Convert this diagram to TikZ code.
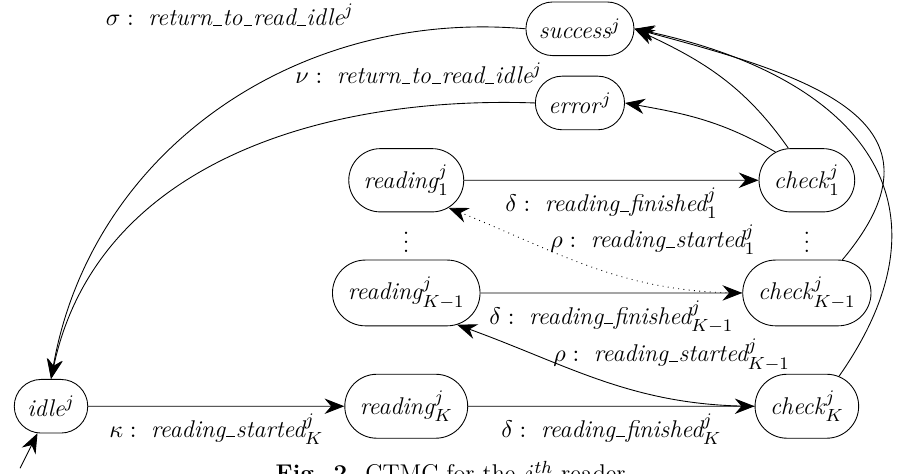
\documentclass[tikz,border=0pt]{standalone}
\usepackage{amsmath}
\usepackage{amssymb}
\usetikzlibrary{shapes.misc,arrows.meta}

\newcommand{\us}{\kern.05em\vbox{\hrule width.36em}\kern.03em}

\tikzset{
    state/.style={draw, rounded rectangle, inner xsep=5pt, inner ysep=7.5pt},
    trans/.style={-{Stealth[length=9pt,width=7pt,inset=3pt]}},
}

\begin{document}
\begin{tikzpicture}[every node/.style={font=\fontsize{11}{13.2}\selectfont}]
    \useasboundingbox (0,0) rectangle (14.41,-7.57);

    % States
    \node[state] (idle) at (0.815,-6.49) {\textit{idle}$^j$};
    \node[state] (readK) at (6.49,-6.49) {\textit{reading}$^j_K$};
    \node[state] (checkK) at (12.89,-6.49) {\textit{check}$^j_K$};
    \node[state] (readKm) at (6.49,-4.68) {\textit{reading}$^j_{K-1}$};
    \node[state] (checkKm) at (12.89,-4.68) {\textit{check}$^j_{K-1}$};
    \node[state] (read1) at (6.49,-2.88) {\textit{reading}$^j_1$};
    \node[state] (check1) at (12.89,-2.88) {\textit{check}$^j_1$};
    \node[state] (success) at (9.265,-0.46) {\textit{success}$^j$};
    \node[state] (error) at (9.265,-1.645) {\textit{error}$^j$};
    \node (dotsL) at (6.49,-3.77) {$\vdots$};
    \node (dotsR) at (12.89,-3.77) {$\vdots$};

    % Initial arrow
    \coordinate (init) at (0.32,-7.48);
    \draw[trans] (init) -- (idle);

    % Reading and checking
    \draw[trans] (idle) -- (readK)
        node[midway,below] {$\kappa:\ \textit{reading\us started}^j_K$};
    \draw[trans] (readK) -- (checkK)
        node[midway,below] {$\delta:\ \textit{reading\us finished}^j_K$};
    \draw[trans] (readKm) -- (checkKm)
        node[midway,below] {$\delta:\ \textit{reading\us finished}^j_{K-1}$};
    \draw[trans] (read1) -- (check1)
        node[midway,below] {$\delta:\ \textit{reading\us finished}^j_1$};

    % Next reading
    \draw[trans] (checkK.west) to[out=180,in=-20] (readKm.-32);
    \draw[trans,dotted] (checkKm.west) to[out=180,in=-22] (read1.-33);
    \node (rhoKm) at (10.73,-5.67) {$\rho:\ \textit{reading\us started}^j_{K-1}$};
    \node (rho1) at (10.43,-3.83) {$\rho:\ \textit{reading\us started}^j_1$};

    % Outcome of the checks
    \draw[trans] (check1.138) to[out=150,in=-10] (error.east);
    \draw[trans] (check1.120) to[out=125,in=-25] (success.east);
    \draw[trans] (checkKm.43) to[out=50,in=-15,looseness=1.5] (success.east);
    \draw[trans] (checkK.43) to[out=55,in=-12,looseness=1.4] (success.east);

    % Back to idle
    \draw[trans] (success.west) to[out=175,in=80] (idle.north);
    \draw[trans] (error.west) to[out=178,in=78] (idle.north);
    \node (sigma) at (3.67,-0.24) {$\sigma:\ \textit{return\us to\us read\us idle}^j$};
    \node (nu) at (6.69,-1.17) {$\nu:\ \textit{return\us to\us read\us idle}^j$};

    % Caption
    \node[anchor=base] (caption) at (7.2,-7.70) {\textbf{Fig. 2.} CTMC for the $j^{th}$ reader};
\end{tikzpicture}
\end{document}
